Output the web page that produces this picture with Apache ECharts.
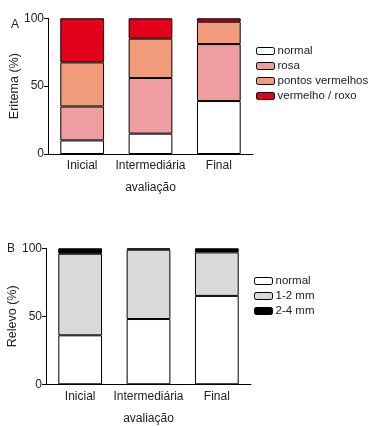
<!DOCTYPE html>
<html><head><meta charset="utf-8">
<script src="https://cdn.jsdelivr.net/npm/echarts@6/dist/echarts.min.js"></script>
<style>html,body{margin:0;padding:0;background:#fff}#c{width:373px;height:426px}</style>
</head><body><div id="c"></div>
<script>
const categories = ['Inicial', 'Intermediária', 'Final'];
const xAxisName = 'avaliação';
const yTicks = [0, 50, 100];

const eritemaNames = ['normal', 'rosa', 'pontos vermelhos', 'vermelho / roxo'];
const eritemaNormal = [10, 15, 39];
const eritemaRosa = [25, 41, 42];
const eritemaPontos = [32.5, 29, 16.5];
const eritemaVermelho = [32.5, 15, 2.5];

const relevoNames = ['normal', '1-2 mm', '2-4 mm'];
const relevoNormal = [36, 48, 65];
const relevo12 = [60, 51, 32];
const relevo24 = [4, 1, 3];

const eritemaColors = ['#ffffff', '#f09da1', '#f09c7b', '#e2001a'];
const relevoColors = ['#ffffff', '#d9d9d9', '#000000'];

const font = 'Liberation Sans, Arial, sans-serif';
const txt = '#222';

function xAxis(gi) {
  return {
    type: 'category', gridIndex: gi, data: categories,
    name: xAxisName, nameLocation: 'middle', nameGap: 28, nameMoveOverlap: false,
    nameTextStyle: {fontFamily: font, fontSize: 12, color: txt},
    axisLine: {lineStyle: {color: '#000', width: 1}},
    axisTick: {show: false},
    axisLabel: {fontFamily: font, fontSize: 12, color: txt, margin: 6, interval: 0}
  };
}
function yAxis(gi, name) {
  return {
    type: 'value', gridIndex: gi, min: 0, max: 100, interval: 50,
    name: name, nameLocation: 'middle', nameGap: 27, nameRotate: 90, nameMoveOverlap: false,
    nameTextStyle: {fontFamily: font, fontSize: 12.5, color: txt},
    axisLine: {show: true, lineStyle: {color: '#000', width: 1}},
    axisTick: {show: true, length: 4, lineStyle: {color: '#000'}},
    splitLine: {show: false},
    axisLabel: {fontFamily: font, fontSize: 12, color: txt, margin: 4,
      formatter: v => yTicks.includes(v) ? String(v) : ''}
  };
}
function bar(name, data, color, gi, stack) {
  return {
    type: 'bar', name: name, data: data, xAxisIndex: gi, yAxisIndex: gi,
    stack: stack, barWidth: '64%',
    itemStyle: {color: color, borderColor: '#000', borderWidth: 1},
    emphasis: {disabled: true}
  };
}
const eritemaData = [eritemaNormal, eritemaRosa, eritemaPontos, eritemaVermelho];
const relevoData = [relevoNormal, relevo12, relevo24];

const series = [];
eritemaNames.forEach((n, i) => series.push(bar(n, eritemaData[i], eritemaColors[i], 0, 'A')));
relevoNames.forEach((n, i) => series.push(bar(n, relevoData[i], relevoColors[i], 1, 'B')));

function legend(names, left, top) {
  return {
    data: names, left: left, top: top, orient: 'vertical',
    itemWidth: 18, itemHeight: 7, itemGap: 1, padding: 0,
    selectedMode: false,
    textStyle: {fontFamily: font, fontSize: 11.5, color: txt, lineHeight: 14, padding: [0, 0, 0, -2]},
    itemStyle: {borderColor: '#000', borderWidth: 1}
  };
}

const chart = echarts.init(document.getElementById('c'), null, {renderer: 'canvas'});
chart.setOption({
  animation: false,
  backgroundColor: '#fff',
  grid: [
    {left: 48, right: 120, top: 18.3, height: 135.7, containLabel: false, outerBoundsMode: 'none'},
    {left: 46, right: 122, top: 248.3, height: 136, containLabel: false, outerBoundsMode: 'none'}
  ],
  xAxis: [xAxis(0), xAxis(1)],
  yAxis: [yAxis(0, 'Eritema (%)'), yAxis(1, 'Relevo (%)')],
  legend: [legend(eritemaNames, 256, 44), legend(relevoNames, 254, 274)],
  graphic: [
    {type: 'text', left: 11, top: 19, style: {text: 'A', font: '12px ' + font, fill: txt}},
    {type: 'text', left: 7, top: 243, style: {text: 'B', font: '12px ' + font, fill: txt}}
  ],
  series: series
});
</script></body></html>
